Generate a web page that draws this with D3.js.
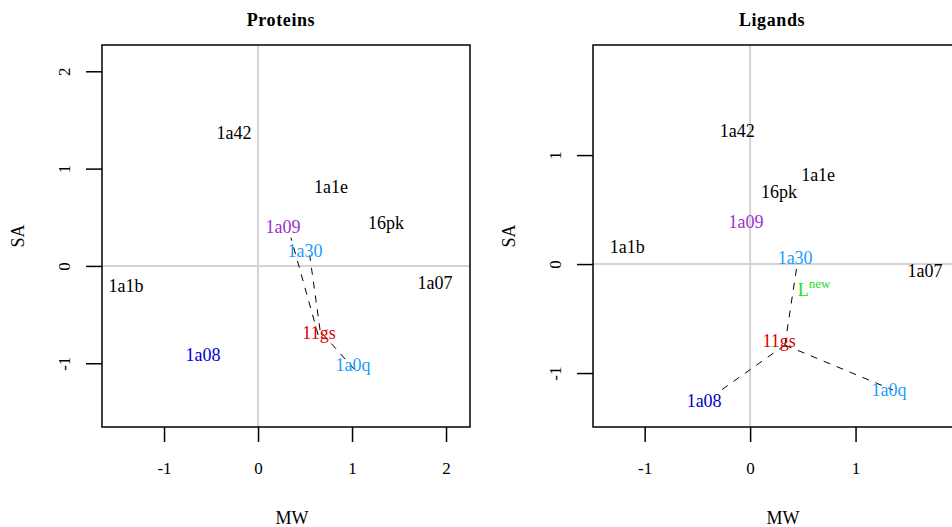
<!DOCTYPE html>
<html>
<head>
<meta charset="utf-8">
<script src="https://cdn.jsdelivr.net/npm/d3@7/dist/d3.min.js"></script>
<style>
  body { margin: 0; background: #fff; }
  text { font-family: "Liberation Serif", "DejaVu Serif", serif; }
</style>
</head>
<body>
<div id="main-vis"></div>
<script>
// label names and positions (MW, SA)
const proteinNames = ["1a42", "1a1e", "1a09", "16pk", "1a30", "1a1b", "1a07", "11gs", "1a08", "1a0q"]
const proteinMW    = [-0.255, 0.777, 0.266, 1.362, 0.50, -1.404, 1.883, 0.649, -0.585, 1.011]
const proteinSA    = [1.367, 0.812, 0.40, 0.442, 0.154, -0.206, -0.175, -0.689, -0.915, -1.017]

const ligandNames = ["1a42", "1a1e", "16pk", "1a09", "1a1b", "1a30", "1a07", "11gs", "1a08", "1a0q"]
const ligandMW    = [-0.123, 0.645, 0.275, -0.038, -1.166, 0.427, 1.659, 0.275, -0.436, 1.318]
const ligandSA    = [1.22, 0.817, 0.661, 0.385, 0.156, 0.055, -0.064, -0.706, -1.257, -1.156]

// new ligand
const newLigand = {mw: 0.607, sa: -0.24}

// dashed links [x1, y1, x2, y2]
const proteinLinks = [
    [0.64, -0.71, 0.35, 0.29],
    [0.66, -0.66, 0.55, 0.11],
    [0.68, -0.69, 1.05, -1.09]
]
const ligandLinks = [
    [0.33, -0.743, 0.445, -0.01],
    [0.33, -0.743, -0.30, -1.174],
    [0.33, -0.743, 1.355, -1.156]
]

const xTicksP = [-1, 0, 1, 2]
const yTicksP = [-1, 0, 1, 2]
const xTicksL = [-1, 0, 1]
const yTicksL = [-1, 0, 1]

const labelColors = {
    "1a09": "#9a32cd",
    "1a30": "#1c9cff",
    "1a0q": "#1c9cff",
    "11gs": "#dd0000",
    "1a08": "#0000cd"
}

const svg = d3.create('svg')
    .attr('width', 952)
    .attr('height', 527)

function panel (opts) {
    const x = d3.scaleLinear().domain(opts.xDomain).range(opts.xRange)
    const y = d3.scaleLinear().domain(opts.yDomain).range([427, 45])
    const g = svg.append('g')

    // reference lines at zero
    g.append('line')
        .attr('x1', x(0)).attr('x2', x(0))
        .attr('y1', y.range()[0]).attr('y2', y.range()[1])
        .attr('stroke', '#d3d3d3').attr('stroke-width', 2)
    g.append('line')
        .attr('x1', opts.xRange[0]).attr('x2', opts.xRange[1])
        .attr('y1', y(0)).attr('y2', y(0))
        .attr('stroke', '#d3d3d3').attr('stroke-width', 2)

    // dashed links
    g.selectAll('line.link')
        .data(opts.links)
        .join('line')
            .attr('class', 'link')
            .attr('x1', d => x(d[0])).attr('y1', d => y(d[1]))
            .attr('x2', d => x(d[2])).attr('y2', d => y(d[3]))
            .attr('stroke', '#000').attr('stroke-width', 1)
            .attr('stroke-dasharray', '7,7')

    // labels
    g.selectAll('text.lab')
        .data(opts.names)
        .join('text')
            .attr('class', 'lab')
            .attr('x', (d, i) => x(opts.mw[i]))
            .attr('y', (d, i) => y(opts.sa[i]))
            .attr('text-anchor', 'middle')
            .attr('dominant-baseline', 'central')
            .attr('font-size', 18)
            .attr('fill', d => labelColors[d] || '#000')
            .text(d => d)

    // box
    g.append('rect')
        .attr('x', opts.xRange[0]).attr('y', 45)
        .attr('width', opts.xRange[1] - opts.xRange[0]).attr('height', 382)
        .attr('fill', 'none').attr('stroke', '#000').attr('stroke-width', 1.5)

    // axes
    const xa = g.append('g')
        .attr('transform', 'translate(0,427)')
        .call(d3.axisBottom(x).tickValues(opts.xTicks).tickSize(15).tickPadding(20).tickFormat(d => String(d)))
    xa.select('.domain').remove()
    xa.selectAll('.tick line').attr('stroke-width', 1.5)
    xa.selectAll('.tick text').attr('font-size', 17).attr('font-family', '"Liberation Serif", serif')

    const ya = g.append('g')
        .attr('transform', `translate(${opts.xRange[0]},0)`)
        .call(d3.axisLeft(y).tickValues(opts.yTicks).tickSize(16).tickFormat(d => String(d)))
    ya.select('.domain').remove()
    ya.selectAll('.tick line').attr('stroke-width', 1.5)
    ya.selectAll('.tick text')
        .attr('transform', 'rotate(-90)')
        .attr('x', 0).attr('y', -38).attr('dy', null)
        .attr('text-anchor', 'middle')
        .attr('dominant-baseline', 'central')
        .attr('font-size', 17).attr('font-family', '"Liberation Serif", serif')

    const cx = (opts.xRange[0] + opts.xRange[1]) / 2

    // titles
    g.append('text')
        .attr('x', cx - 5).attr('y', 20)
        .attr('text-anchor', 'middle').attr('dominant-baseline', 'central')
        .attr('font-size', 18).attr('font-weight', 'bold')
        .attr('letter-spacing', 0.6)
        .text(opts.title)
    g.append('text')
        .attr('x', cx + 6).attr('y', 518)
        .attr('text-anchor', 'middle').attr('dominant-baseline', 'central')
        .attr('font-size', 18)
        .text('MW')
    g.append('text')
        .attr('transform', `translate(${opts.xRange[0] - 84},236) rotate(-90)`)
        .attr('text-anchor', 'middle').attr('dominant-baseline', 'central')
        .attr('font-size', 18)
        .text('SA')

    return {g, x, y}
}

panel({
    title: 'Proteins',
    xDomain: [-1.66, 2.255], xRange: [102, 470],
    yDomain: [-1.655, 2.27],
    names: proteinNames, mw: proteinMW, sa: proteinSA,
    links: proteinLinks, xTicks: xTicksP, yTicks: yTicksP
})

const right = panel({
    title: 'Ligands',
    xDomain: [-1.49, 2.0], xRange: [593, 961],
    yDomain: [-1.495, 2.01],
    names: ligandNames, mw: ligandMW, sa: ligandSA,
    links: ligandLinks, xTicks: xTicksL, yTicks: yTicksL
})

// L^new label
const lnew = right.g.append('text')
    .attr('x', right.x(newLigand.mw)).attr('y', right.y(newLigand.sa))
    .attr('text-anchor', 'middle').attr('dominant-baseline', 'central')
    .attr('font-size', 18).attr('fill', '#22e022')
lnew.append('tspan').text('L')
lnew.append('tspan').attr('font-size', 13).attr('dy', -7).text('new')

d3.select('#main-vis').node().appendChild(svg.node())
</script>
</body>
</html>
